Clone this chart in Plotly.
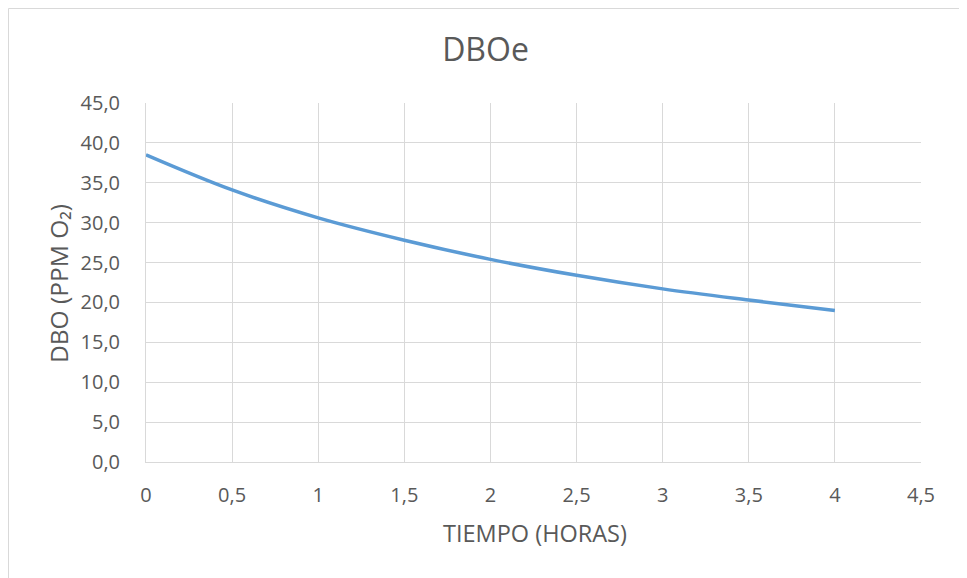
import plotly.graph_objects as go

tiempo = [0, 0.5, 1, 1.5, 2, 2.5, 3, 3.5, 4]
dbo = [38.5, 34.1, 30.6, 27.8, 25.4, 23.4, 21.7, 20.3, 19.0]

x_tickvals = [0, 0.5, 1, 1.5, 2, 2.5, 3, 3.5, 4, 4.5]
x_ticktext = ["0", "0,5", "1", "1,5", "2", "2,5", "3", "3,5", "4", "4,5"]
y_tickvals = [0, 5, 10, 15, 20, 25, 30, 35, 40, 45]
y_ticktext = ["0,0", "5,0", "10,0", "15,0", "20,0", "25,0", "30,0", "35,0", "40,0", "45,0"]

# page body has an 8px margin; figure coords = page coords - 8
OFF = 8
W, H = 967 - OFF, 578 - OFF
PL, PR, PT, PB = 146, 921, 103, 462  # plot area in page pixels
L, T = PL - OFF, PT - OFF
R = W - (PR - OFF)
B = H - (PB - OFF)
pw, ph = W - L - R, H - T - B


def px(xp):
    return (xp - OFF - L) / pw


def py(yp):
    return (H - B - (yp - OFF)) / ph


FONT = "Open Sans, Liberation Sans, sans-serif"
GREY = "#595959"

fig = go.Figure()
fig.add_trace(go.Scatter(
    x=tiempo, y=dbo, mode="lines",
    line=dict(color="#5b9bd5", width=3.5, shape="spline", smoothing=1.0),
    showlegend=False,
))

fig.update_layout(
    width=W, height=H,
    margin=dict(l=L, r=R, t=T, b=B),
    paper_bgcolor="white", plot_bgcolor="white",
    title=dict(text="DBOe", x=px(485.5), xref="paper", xanchor="center",
               y=1 - (50 - OFF) / H, yanchor="middle",
               font=dict(family=FONT, size=32, color=GREY)),
    font=dict(family=FONT, color=GREY),
    xaxis=dict(
        range=[0, 4.5], tickvals=x_tickvals, ticktext=x_ticktext,
        showgrid=True, gridcolor="#d9d9d9", gridwidth=1,
        zeroline=False, showline=True, linecolor="#d9d9d9", linewidth=1,
        ticks="", ticklabelstandoff=15, tickfont=dict(size=20, color=GREY),
    ),
    yaxis=dict(
        range=[0, 45], tickvals=y_tickvals, ticktext=y_ticktext,
        showgrid=True, gridcolor="#d9d9d9", gridwidth=1,
        zeroline=False, showline=True, linecolor="#d9d9d9", linewidth=1,
        ticks="", ticklabelstandoff=21, tickfont=dict(size=20, color=GREY),
    ),
    annotations=[
        dict(text="TIEMPO (HORAS)", xref="paper", yref="paper",
             x=px(534.5), y=py(533), xanchor="center", yanchor="middle",
             showarrow=False, font=dict(family=FONT, size=23.5, color=GREY)),
        dict(text="DBO (PPM O₂)", xref="paper", yref="paper",
             x=px(58), y=py(284), xanchor="center", yanchor="middle",
             textangle=-90, showarrow=False,
             font=dict(family=FONT, size=24.5, color=GREY)),
    ],
    shapes=[dict(type="rect", xref="paper", yref="paper",
                 x0=px(OFF + 0.5), x1=px(963.5), y0=py(600), y1=py(OFF + 0.5),
                 line=dict(color="#d9d9d9", width=1), layer="below")],
)

fig.write_html("out.html")
